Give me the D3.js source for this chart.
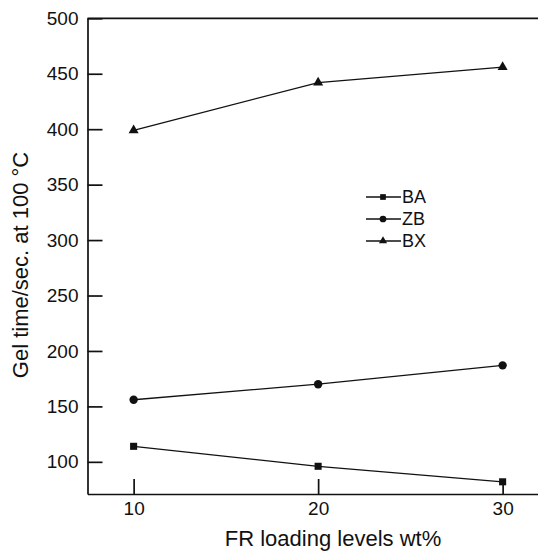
<!DOCTYPE html>
<html>
<head>
<meta charset="utf-8">
<script src="https://cdn.jsdelivr.net/npm/d3@7"></script>
<style>
  body { margin: 0; background: #fff; }
  svg { display: block; font-family: "Liberation Sans", Arial, sans-serif; }
  .axis path, .axis line { stroke: #111; }
  .axis text { fill: #111; font-size: 19px; }
  .axis-title { fill: #111; font-size: 22px; }
</style>
</head>
<body>
<svg id="chart" width="538" height="551"></svg>
<script>
const width = 538;
const height = 551;

// data
const loadings = [10, 20, 30];
const seriesNames = ["BA", "ZB", "BX"];
const baValues = [114, 96, 82];
const zbValues = [156, 170, 187];
const bxValues = [399, 442, 456];
const yTicks = [100, 150, 200, 250, 300, 350, 400, 450, 500];

const series = [
  {name: seriesNames[0], values: baValues, symbol: d3.symbolSquare, size: 50},
  {name: seriesNames[1], values: zbValues, symbol: d3.symbolCircle, size: 55},
  {name: seriesNames[2], values: bxValues, symbol: d3.symbolTriangle, size: 44}
];

const svg = d3.select("svg#chart");

/* SCALES */
const x = d3.scaleLinear().domain([7.5, 32.5]).range([87.5, 548.75]);
const y = d3.scaleLinear().domain([71, 500]).range([494, 18.3]);

/* AXES */
const xAxis = d3.axisBottom(x).tickValues(loadings).tickSizeInner(-15).tickSizeOuter(0).tickPadding(8);
svg.append("g").attr("class", "axis")
  .attr("transform", "translate(0," + y.range()[0] + ")")
  .call(xAxis)
  .call(g => g.selectAll("line, path").attr("stroke-width", 1.7));

const yAxis = d3.axisLeft(y).tickValues(yTicks).tickSizeInner(-15).tickSizeOuter(0).tickPadding(9);
svg.append("g").attr("class", "axis")
  .attr("transform", "translate(" + x.range()[0] + ",0)")
  .call(yAxis)
  .call(g => g.selectAll("line, path").attr("stroke-width", 1.7));

// top frame line
svg.append("line")
  .attr("x1", x.range()[0]).attr("x2", x.range()[1])
  .attr("y1", y.range()[1]).attr("y2", y.range()[1])
  .attr("stroke", "#111").attr("stroke-width", 1.7);

/* TITLES */
svg.append("text").attr("class", "axis-title")
  .attr("x", 333).attr("y", 546)
  .attr("text-anchor", "middle")
  .text("FR loading levels wt%");

svg.append("text").attr("class", "axis-title")
  .attr("transform", "translate(28,265) rotate(-90)")
  .attr("text-anchor", "middle")
  .text("Gel time/sec. at 100 °C");

/* LINES + MARKERS */
const line = d3.line()
  .x((d, i) => x(loadings[i]))
  .y(d => y(d));

series.forEach(s => {
  svg.append("path")
    .attr("d", line(s.values))
    .attr("fill", "none")
    .attr("stroke", "#111")
    .attr("stroke-width", 1.3);

  svg.append("g").selectAll("path")
    .data(s.values)
    .enter()
    .append("path")
    .attr("transform", (d, i) => "translate(" + x(loadings[i]) + "," + y(d) + ")")
    .attr("d", d3.symbol().type(s.symbol).size(s.size))
    .attr("fill", "#111");
});

/* LEGEND */
const legend = svg.append("g").attr("transform", "translate(366,197)");
series.forEach((s, i) => {
  const row = legend.append("g").attr("transform", "translate(0," + (i * 22) + ")");
  row.append("line").attr("x1", 0).attr("x2", 35).attr("y1", 0).attr("y2", 0)
    .attr("stroke", "#111").attr("stroke-width", 1.3);
  row.append("path")
    .attr("transform", "translate(17,0)")
    .attr("d", d3.symbol().type(s.symbol).size(s.size * 0.65))
    .attr("fill", "#111");
  row.append("text")
    .attr("x", 36).attr("y", 0).attr("dy", "0.36em")
    .attr("font-size", 18).attr("fill", "#111")
    .text(s.name);
});
</script>
</body>
</html>
